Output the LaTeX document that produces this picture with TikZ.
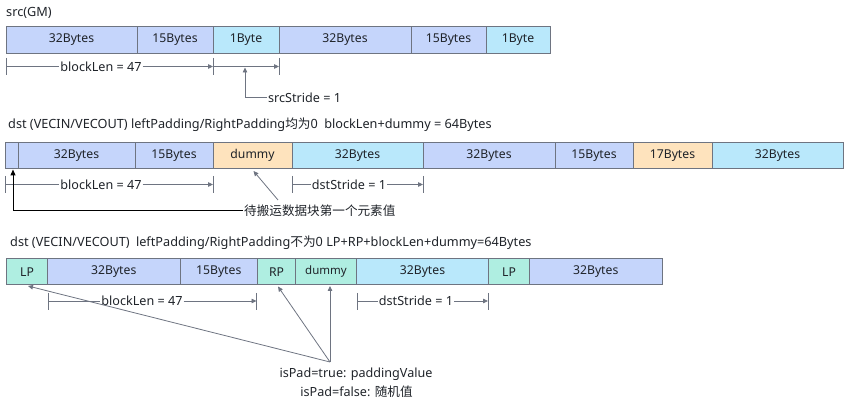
\documentclass[tikz,border=0pt]{standalone}
\usepackage{fontspec}
\setmainfont{Noto Sans}
\newfontfamily\cjk{Noto Sans CJK SC}
\usetikzlibrary{arrows.meta}
\definecolor{cblue}{HTML}{C5D5FB}
\definecolor{ccyan}{HTML}{B9E8FB}
\definecolor{corange}{HTML}{FEE3BD}
\definecolor{cteal}{HTML}{AFEEE1}
\definecolor{cline}{HTML}{6E7481}
\definecolor{ctext}{HTML}{1F2329}
\begin{document}
\begin{tikzpicture}[x=1pt,y=-1pt,
  cell/.style={draw=cline,line width=1pt,inner sep=0pt,outer sep=0pt,font=\fontsize{12.2}{14}\selectfont,text=ctext},
  lbl/.style={inner sep=1pt,font=\fontsize{12.6}{14}\selectfont,text=ctext},
  ttl/.style={inner sep=0pt,anchor=west,font=\fontsize{12.7}{14}\selectfont,text=ctext},
  dim/.style={draw=cline,line width=0.8pt},
  arr/.style={draw=cline,line width=0.8pt,-{Triangle[length=5pt,width=4.5pt]}},
  barr/.style={draw=black,line width=1pt,-{Triangle[length=6pt,width=5pt]}}]
\useasboundingbox (0,0) rectangle (844,403);
% helper: cell from x1 to x2 at row center y, height h
\newcommand{\cellbox}[7]{% name, x1, x2, yc, h, fill, text
  \node[cell,fill=#6,minimum width={#3-#2},minimum height=#5] (#1) at ({(#2+#3)/2},#4) {#7};}

% ---------------- Row 1 ----------------
\node[ttl] (t1) at (6,13) {src(GM)};
\cellbox{a1}{6}{137}{40}{26.5}{cblue}{32Bytes}
\cellbox{a2}{137}{213}{40}{26.5}{cblue}{15Bytes}
\cellbox{a3}{213}{279}{40}{26.5}{ccyan}{1Byte}
\cellbox{a4}{279}{411}{40}{26.5}{cblue}{32Bytes}
\cellbox{a5}{411}{486}{40}{26.5}{cblue}{15Bytes}
\cellbox{a6}{486}{550}{40}{26.5}{ccyan}{1Byte}

\coordinate (p1a) at (6,66.5);
\coordinate (p1b) at (213,66.5);
\coordinate (p1c) at (279,66.5);
\draw[dim] (6,58) -- (6,75);
\draw[dim] (213,58) -- (213,75);
\draw[dim] (279,58) -- (279,75);
\node[lbl] (bl1) at (101,66.5) {blockLen = 47};
\draw[dim] (p1a) -- (bl1.west);
\draw[arr] (bl1.east) -- (p1b);
\draw[arr] (p1b) -- (p1c);
\node[lbl,anchor=west] (ss1) at (267,97.5) {srcStride = 1};
\coordinate (k1) at (245,97.5);
\coordinate (k1t) at (245,67.5);
\draw[dim] (ss1.west) -- (k1);
\draw[arr] (k1) -- (k1t);

% ---------------- Row 2 ----------------
\node[ttl] (t2) at (8,125) {dst (VECIN/VECOUT) leftPadding/RightPadding{\cjk 均为}0\enspace blockLen+dummy = 64Bytes};
\cellbox{b0}{5}{18}{155.5}{26}{cblue}{}
\cellbox{b1}{18}{135}{155.5}{26}{cblue}{32Bytes}
\cellbox{b2}{135}{213}{155.5}{26}{cblue}{15Bytes}
\cellbox{b3}{213}{292}{155.5}{26}{corange}{dummy}
\cellbox{b4}{292}{423}{155.5}{26}{ccyan}{32Bytes}
\cellbox{b5}{423}{555}{155.5}{26}{cblue}{32Bytes}
\cellbox{b6}{555}{633}{155.5}{26}{cblue}{15Bytes}
\cellbox{b7}{633}{712}{155.5}{26}{corange}{17Bytes}
\cellbox{b8}{712}{843}{155.5}{26}{ccyan}{32Bytes}

\draw[dim] (5,176) -- (5,193);
\draw[dim] (213,176) -- (213,193);
\draw[dim] (292,176) -- (292,193);
\draw[dim] (423,176) -- (423,193);
\coordinate (p2a) at (5,184.5);
\coordinate (p2b) at (213,184.5);
\coordinate (p2c) at (292,184.5);
\coordinate (p2d) at (423,184.5);
\node[lbl] (bl2) at (101,184.5) {blockLen = 47};
\draw[dim] (p2a) -- (bl2.west);
\draw[arr] (bl2.east) -- (p2b);
\node[lbl] (ds2) at (349,184.5) {dstStride = 1};
\draw[dim] (p2c) -- (ds2.west);
\draw[arr] (ds2.east) -- (p2d);

\node[lbl,anchor=west,font=\cjk\fontsize{12.6}{14}\selectfont] (fe) at (243,211) {待搬运数据块第一个元素值};
\coordinate (k2) at (13,211);
\draw[line width=1pt] (fe.west) -- (k2);
\draw[barr] (k2) -- (13,169.5);
\coordinate (dm2) at (253.5,171);
\draw[arr] (278,200) -- (dm2);

% ---------------- Row 3 ----------------
\node[ttl] (t3) at (10,242.5) {dst (VECIN/VECOUT)\enspace leftPadding/RightPadding{\cjk 不为}0 LP+RP+blockLen+dummy=64Bytes};
\cellbox{c1}{6.5}{47.5}{271.75}{26.5}{cteal}{LP}
\cellbox{c2}{47.5}{180}{271.75}{26.5}{cblue}{32Bytes}
\cellbox{c3}{180}{257.5}{271.75}{26.5}{cblue}{15Bytes}
\cellbox{c4}{257.5}{295.5}{271.75}{26.5}{cteal}{RP}
\cellbox{c5}{295.5}{356.5}{271.75}{26.5}{cteal}{\fontsize{11.5}{13}\selectfont dummy}
\cellbox{c6}{356.5}{488.5}{271.75}{26.5}{ccyan}{32Bytes}
\cellbox{c7}{488.5}{529.5}{271.75}{26.5}{cteal}{LP}
\cellbox{c8}{529.5}{662}{271.75}{26.5}{cblue}{32Bytes}

\draw[dim] (48.5,293) -- (48.5,310);
\draw[dim] (256.5,293) -- (256.5,310);
\draw[dim] (357,293) -- (357,310);
\draw[dim] (488,293) -- (488,310);
\coordinate (p3a) at (48.5,301);
\coordinate (p3b) at (256.5,301);
\coordinate (p3c) at (357,301);
\coordinate (p3d) at (488,301);
\node[lbl] (bl3) at (142,301) {blockLen = 47};
\draw[dim] (p3a) -- (bl3.west);
\draw[arr] (bl3.east) -- (p3b);
\node[lbl] (ds3) at (416,301) {dstStride = 1};
\draw[dim] (p3c) -- (ds3.west);
\draw[arr] (ds3.east) -- (p3d);

\coordinate (apex) at (330,362);
\draw[arr] (apex) -- (28,286);
\draw[arr] (apex) -- (278,286.5);
\draw[arr] (apex) -- (330,286);
\node[lbl] (ip1) at (356,374.5) {isPad=true: paddingValue};
\node[lbl] (ip2) at (356.5,392) {isPad=false: {\cjk 随机值}};
\end{tikzpicture}
\end{document}
